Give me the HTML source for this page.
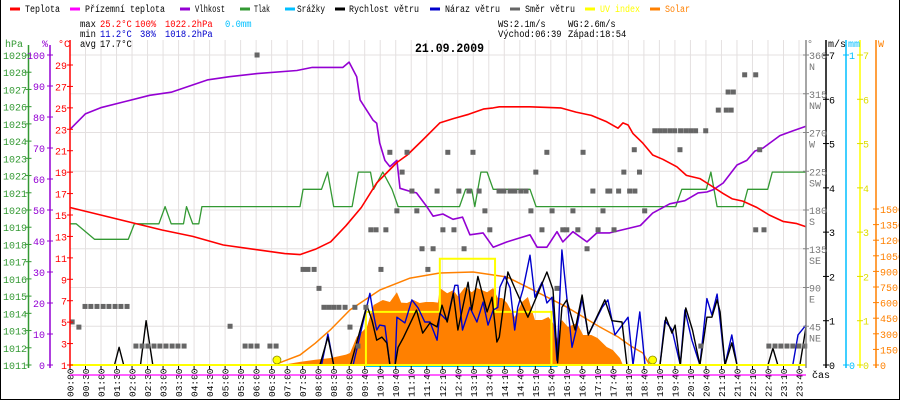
<!DOCTYPE html>
<html><head><meta charset="utf-8"><style>
html,body{margin:0;padding:0;background:#fff;}
svg{display:block;font-family:"Liberation Mono",monospace;}
</style></head><body>
<svg id="chart" width="900" height="400" viewBox="0 0 900 400" xmlns="http://www.w3.org/2000/svg">
<rect x="0" y="0" width="900" height="400" fill="#fff"/>
<g id="grid"></g>
<g id="series"></g>
<g id="axes"></g>
<g id="legend"></g>
</svg>
<script>
// ---------- DATA ----------
const timeLabels = ["00:00","00:30","01:00","01:30","02:00","02:30","03:00","03:30","04:00","04:30","05:00","05:30","06:00","06:30","07:00","07:30","08:00","08:30","09:00","09:40","10:10","10:40","11:10","11:40","12:10","12:40","13:10","13:40","14:10","14:40","15:10","15:40","16:10","16:40","17:10","17:40","18:10","18:40","19:10","19:40","20:10","20:40","21:10","21:40","22:10","22:40","23:10","23:40"];
const tempT = [0,1,2,3,4,5,6,7,7.5,8,8.5,9,9.5,10,10.66,11,11.5,12.06,12.5,13,13.5,13.8,14,15,16,16.5,17,17.5,17.87,18.03,18.2,18.36,18.68,19,19.33,19.79,20.1,20.54,20.87,21.3,21.6,21.94,22.4,22.8,23.25,23.7,24];
const tempV = [15.7,15.0,14.3,13.6,13.0,12.2,11.8,11.4,11.3,11.8,12.5,14.0,15.7,18.0,19.9,20.6,22.0,23.6,24.0,24.4,24.9,25.0,25.1,25.1,25.0,24.6,24.3,23.7,23.1,23.6,23.4,22.6,21.7,20.6,20.2,19.5,18.7,18.4,17.8,17.0,16.5,16.3,15.7,15.0,14.4,14.2,13.9];
const humT = [0,0.5,1,1.8,2.6,3.3,4.5,5.2,6.1,7.4,7.9,8.9,9.1,9.35,9.46,9.88,10.0,10.1,10.27,10.43,10.66,10.76,11.09,11.3,11.64,11.84,12.16,12.49,12.8,13.04,13.47,13.8,14.25,14.67,15.0,15.23,15.55,15.88,16.07,16.4,16.86,17.18,17.6,18.6,19.0,19.56,20.05,20.48,20.77,20.97,21.3,21.75,22.07,22.33,22.6,23.15,23.57,24];
const humV = [76,81,83,85,87,88,92,93,94,95,96,96,97.7,93,85.5,79,78,71.6,66,64,66,57,56,55.5,51,48,48.7,47,47.7,42,42.6,38,39.7,41,42,38,38,43,39.7,43,39.7,42.6,42.6,45,49,52,53,55.5,55.8,56.5,58.7,64.5,66,69,70,74,75.5,77];
const presT = [0,0.2,0.8,1.9,2.1,2.9,3.1,3.3,3.7,3.8,4.0,4.2,4.3,7.5,7.6,8.2,8.4,8.6,9.2,9.4,9.8,9.9,10.2,10.5,10.7,12.7,12.9,13.1,13.2,13.4,13.6,13.8,15.0,15.2,19.75,19.95,20.75,20.9,21.1,21.95,22.1,22.75,22.9,24];
const presV = [1019.2,1019.2,1018.3,1018.3,1019.2,1019.2,1020.2,1019.2,1019.2,1020.2,1019.2,1019.2,1020.2,1020.2,1021.2,1021.2,1022.2,1020.2,1020.2,1022.2,1022.2,1021.2,1022.2,1021.2,1020.2,1020.2,1021.2,1021.2,1020.2,1022.2,1022.2,1021.2,1021.2,1020.2,1020.2,1021.2,1021.2,1022.2,1020.2,1020.2,1021.2,1021.2,1022.2,1022.2];
const wsT = [0,1.45,1.6,1.75,2.3,2.48,2.7,8.15,8.41,8.6,9.15,9.68,9.85,10.0,10.17,10.33,10.43,10.6,10.7,10.86,11.3,11.5,11.74,11.97,12.13,12.3,12.5,12.65,12.98,13.1,13.3,13.6,13.76,13.92,14.0,14.28,14.5,14.93,15.55,15.75,15.9,16.04,16.2,16.47,16.7,16.9,17.44,17.67,18.0,18.16,19.24,19.43,19.63,19.73,19.9,20.08,20.3,20.54,20.77,20.93,21.1,21.2,21.36,21.58,21.75,22.76,22.92,23.08,23.8,24];
const wsV = [0,0,0.4,0,0,1.0,0,0,0.63,0,0,1.35,1.0,0.56,0.63,0.5,0,0,0.4,0.6,1.24,0.72,0.95,0.86,1.35,0.97,1.62,0.79,1.87,1.24,2.0,1.2,1.53,0.52,0.63,2.1,1.74,1.08,2.1,1.7,0.05,1.3,1.47,0.79,1.58,0.68,1.47,1.0,0.97,0,0,1.08,0.72,0.9,0,1.29,0.79,0,1.08,1.08,1.47,1.2,0,0.5,0,0,0.38,0,0,0.86];
const wgT = [0,8.2,8.41,8.6,9.23,9.78,9.88,10.0,10.1,10.27,10.43,10.6,10.66,10.92,11.15,11.35,11.57,11.74,11.97,12.06,12.3,12.55,12.65,12.8,13.04,13.27,13.47,13.63,13.8,13.95,14.02,14.18,14.35,14.5,14.6,14.77,15.0,15.16,15.39,15.55,15.72,15.88,16.04,16.2,16.37,16.53,16.7,16.9,17.35,17.54,17.77,18.2,18.36,18.58,18.75,19.24,19.4,19.63,19.9,20.05,20.28,20.54,20.77,20.93,21.1,21.2,21.36,21.58,21.75,23.57,23.74,24];
const wgV = [0,0,0.7,0,0,1.62,1.2,0.79,0.9,0.88,0,0,1.08,0.95,1.47,1.29,0.97,0.97,0.56,1.17,1.0,1.8,1.8,0.79,1.3,0.97,1.42,0.9,1.24,1.3,1.76,2.0,1.74,0.79,1.3,1.7,2.48,1.53,1.87,1.4,1.53,0.1,2.6,1.53,0.4,0.86,1.5,0.68,1.3,1.47,0.68,1.08,0,1.2,0,0,1.0,0.8,0,1.24,0.56,0,1.5,1.13,1.6,1.0,0,0.68,0,0,0.68,0.9];
const dirT = [0.07,0.29,0.49,0.68,0.88,1.08,1.27,1.47,1.66,1.86,2.15,2.35,2.54,2.74,2.93,3.13,3.33,3.52,3.72,5.22,5.71,5.9,6.1,6.52,6.72,6.1,7.6,7.76,7.96,8.12,8.28,8.44,8.6,8.77,8.97,9.13,9.29,9.39,9.65,9.81,9.98,10.3,10.14,10.43,10.99,10.66,10.83,11.15,11.31,11.48,11.67,11.84,11.97,12.16,12.32,12.52,12.68,12.85,13.01,13.14,13.34,13.53,13.69,13.99,14.15,14.35,14.51,14.7,14.87,15.03,15.19,15.39,15.55,15.72,15.88,16.07,16.2,16.4,16.56,16.73,16.86,17.05,17.22,17.38,17.54,17.74,17.6,17.89,18.25,18.06,18.4,18.42,18.57,18.74,19.07,19.23,19.39,19.56,19.72,19.91,20.08,20.24,20.4,20.73,21.4,21.56,19.89,21.14,21.46,21.63,22.0,22.36,22.49,22.36,22.63,20.57,22.79,22.99,23.18,23.38,23.57,23.77,23.96];
const dirV = [50,44,68,68,68,68,68,68,68,68,22,22,22,22,22,22,22,22,22,45,22,22,22,22,22,360,111,111,111,89,67,67,67,67,67,44,67,22,67,157,157,157,111,247,247,179,224,202,179,135,111,135,202,157,247,157,202,135,202,247,202,179,157,202,202,202,202,202,202,179,224,157,247,179,89,157,157,179,157,247,135,202,157,179,202,157,202,202,202,224,250,202,224,179,272,272,272,272,272,272,272,272,272,272,296,296,250,296,317,317,337,337,250,157,157,22,22,22,22,22,22,22,22];
const solT = [7.1,7.5,8.0,8.5,9.0,9.13,9.35,9.68,9.9,10.2,10.43,10.66,10.8,10.99,11.2,11.4,11.6,11.84,12.0,12.06,12.3,12.5,12.65,12.88,13.1,13.27,13.6,13.8,13.95,14.09,14.25,14.5,14.74,14.93,15.16,15.39,15.6,15.75,15.88,16.04,16.24,16.53,16.73,17.0,17.2,17.5,17.7,17.93,18.03];
const solV = [10,30,50,67,100,115,270,365,577,625,606,700,600,596,625,596,606,606,600,740,690,720,660,750,700,740,700,740,644,644,596,462,606,654,433,433,462,404,250,433,365,404,288,288,260,173,144,67,0];
const sunT = [6.65,7.0,7.5,8.0,8.48,9.13,10.1,11.09,12.06,13.14,14.25,15.1,16.2,17.28,17.87,18.3,18.68,18.9];
const sunV = [0,40,96,210,336,530,720,836,885,894,846,720,557,365,270,180,115,0];
const uvT = [0,9.65,12.06,13.86,15.7,24];
const uvV = [0,1.2,2.4,1.2,0,0];
const rainT = [9.65,15.9];
const rainV = [0,0];
const hpaTicks = [1029,1028,1027,1026,1025,1024,1023,1022,1021,1020,1019,1018,1017,1016,1015,1014,1013,1012,1011];
const pctTicks = [100,90,80,70,60,50,40,30,20,10,0];
const tempTicks = [29,27,25,23,21,19,17,15,13,11,9,7,5,3,1];
const dirTicks = [360,315,270,225,180,135,90,45];
const dirNames = ["N","NW","W","SW","S","SE","E","NE"];
const msTicks = [7,6,5,4,3,2,1,0];
const uvTicks = [7,6,5,4,3,2,1,0];
const wTicks = [1500,1350,1200,1050,900,750,600,450,300,150,0];

// ---------- SCALES ----------
const X0=70, X1=806, YB=365;
const X = t => X0 + t*(X1-X0)/24;
const yT = v => YB - (v-1)*300/28;
const yH = v => YB - v*3.1;
const yP = v => YB - (v-1011)*310/18;
const yW = v => YB - v*310/7;
const yD = v => YB - v*310/360;
const yS = v => YB - v*0.104;
const NS="http://www.w3.org/2000/svg";
function mk(parent,tag,attrs,text){const e=document.createElementNS(NS,tag);for(const k in attrs)e.setAttribute(k,attrs[k]);if(text!==undefined)e.textContent=text;parent.appendChild(e);return e;}
const G=document.getElementById('grid'),S=document.getElementById('series'),A=document.getElementById('axes'),L=document.getElementById('legend');
function pts(ts,vs,fy){return ts.map((t,i)=>X(t).toFixed(1)+','+fy(vs[i]).toFixed(1)).join(' ');}

// grid
const step=(799-70)/47;
timeLabels.forEach((lab,i)=>{
  const x=70+i*step;
  let l=mk(G,'line',{x1:x,y1:40,x2:x,y2:YB,stroke:'#e4e0e0','stroke-width':1});
  
  
  let tk=mk(A,'line',{x1:x,y1:YB,x2:x,y2:YB+4,stroke:'#000'});
  
  
  let tx=mk(A,'text',{x:0,y:0,transform:`translate(${x+3.5},397) rotate(-90)`,'font-size':'9.5',fill:'#000'},lab);
  
  
});
dirTicks.forEach(d=>{
  let l=mk(G,'line',{x1:X0,y1:yD(d),x2:X1,y2:yD(d),stroke:'#e4e0e0'});
  
  
});

// solar fill
{
  const p=X(solT[0])+','+YB+' '+pts(solT,solV,yS)+' '+X(solT[solT.length-1])+','+YB;
  let e=mk(S,'polygon',{points:p,fill:'#ff8000'});
  
  
}
function line(ts,vs,fy,col,w,name){
  let e=mk(S,'polyline',{points:pts(ts,vs,fy),fill:'none',stroke:col,'stroke-width':w,'stroke-linejoin':'round'});
  
  
}
line(sunT,sunV,yS,'#ff8000',1.5,'theoretical-solar-line');
// UV step
{
  let d='M'+X(uvT[0])+','+yW(uvV[0]);
  for(let i=1;i<uvT.length;i++){d+=' L'+X(uvT[i])+','+yW(uvV[i-1])+' L'+X(uvT[i])+','+yW(uvV[i]);}
  let e=mk(S,'path',{d:d,fill:'none',stroke:'#ffff00','stroke-width':2});
  
  
}
{
  let e=mk(S,'line',{x1:X(rainT[0]),y1:yW(rainV[0])+1,x2:X(rainT[1]),y2:yW(rainV[1])+1,stroke:'#00bfff','stroke-width':2});
  
  
}
line(wgT,wgV,yW,'#0000cc',1.4,'wind-gust-line');
line(wsT,wsV,yW,'#000000',1.4,'wind-speed-line');
line(presT,presV,yP,'#339933',1.3,'pressure-line');
line(humT,humV,yH,'#9400d3',1.6,'humidity-line');
line(tempT,tempV,yT,'#ff0000',1.6,'temperature-line');
dirT.forEach((t,i)=>{
  let e=mk(S,'rect',{x:X(t)-2.5,y:yD(dirV[i])-2.5,width:5,height:5,fill:'#666'});
  
  
});
// suns
[[6.65],[18.9]].forEach(a=>{
  let e=mk(S,'circle',{cx:X(a[0])+3,cy:360,r:4,fill:'#ffff00',stroke:'#888800','stroke-width':0.8});
  
  
});
// x axis
{
  let e=mk(A,'line',{x1:X0,y1:YB,x2:X1,y2:YB,stroke:'#ffff00','stroke-width':2});
  
  
  let m=mk(A,'line',{x1:X0,y1:375,x2:X1,y2:375,stroke:'#ff00ff','stroke-width':1.2});
  
  
}
// left axes
function vaxis(x,col,y1,name){let e=mk(A,'line',{x1:x,y1:y1,x2:x,y2:YB+3,stroke:col,'stroke-width':1.5});}
vaxis(28.5,'#339933',45,'pressure-axis');
vaxis(50,'#9400d3',45,'humidity-axis');
vaxis(70,'#ff0000',40,'temperature-axis');
function ticks(vals,fy,ax,col,tx,anchor,fmt,name){
  vals.forEach(v=>{
    const y=fy(v);
    let l=mk(A,'line',{x1:ax-3,y1:y,x2:ax+3,y2:y,stroke:col});
    
    
    let t=mk(A,'text',{x:tx,y:y+4,'font-size':'10',fill:col,'text-anchor':anchor},fmt?fmt(v):String(v));
    
    
  });
}
ticks(hpaTicks,yP,28.5,'#339933',3,'start',null,'pressure');
ticks(pctTicks,yH,50,'#9400d3',45,'end',null,'humidity');
ticks(tempTicks,yT,70,'#ff0000',67,'end',null,'temperature');
[["hPa",5,'#339933'],["%",42,'#9400d3'],["°C",58,'#ff0000']].forEach(a=>{
  let t=mk(A,'text',{x:a[1],y:47,'font-size':'10',fill:a[2]},a[0]);
  
  
});
// right axes
vaxis(806,'#888',40,'direction-axis');
vaxis(826,'#000',40,'wind-speed-axis');
vaxis(846,'#00bfff',40,'rain-axis');
vaxis(860,'#ffff00',40,'uv-axis');
vaxis(876,'#ff8000',40,'solar-axis');
dirTicks.forEach((d,i)=>{
  const y=yD(d);
  let l=mk(A,'line',{x1:803,y1:y,x2:809,y2:y,stroke:'#888'});
  
  
  let t=mk(A,'text',{x:809,y:y+4,'font-size':'10',fill:'#777'},String(d));
  
  
  let n=mk(A,'text',{x:809,y:y+15,'font-size':'10',fill:'#777'},dirNames[i]);
  
  
});
ticks(msTicks,yW,826,'#000',829,'start',null,'wind-speed');
ticks([1,0],v=>YB-v*310,846,'#00bfff',849,'start',null,'rain');
ticks(uvTicks,yW,860,'#dddd00',863,'start',null,'uv');
ticks(wTicks,yS,876,'#ff8000',880,'start',null,'solar');
[["°",807,'#777'],["m/s",828,'#000'],["mm",848,'#00bfff'],["W",878,'#ff8000']].forEach(a=>{
  let t=mk(A,'text',{x:a[1],y:47,'font-size':'10',fill:a[2]},a[0]);
  
  
});
{let t=mk(A,'text',{x:812,y:378,'font-size':'10',fill:'#000'},'čas');}

// legend
const legItems=[["Teplota",'#ff0000',10,25,35],["Přízemní teplota",'#ff00ff',70,85,80],["Vlhkost",'#9400d3',180,195,30],["Tlak",'#339933',240,254,16],["Srážky",'#00bfff',285,297,28],["Rychlost větru",'#000',335,349,70],["Náraz větru",'#0000cc',430,445,55],["Směr větru",'#666',510,525,50],["UV index",'#ffff00',585,600,40],["Solar",'#ff8000',650,665,25]];
legItems.forEach(a=>{
  let l=mk(L,'line',{x1:a[2],y1:9,x2:a[2]+10,y2:9,stroke:a[1],'stroke-width':3});
  
  
  let t=mk(L,'text',{x:a[3],y:12,'font-size':'10',fill:(a[1]==='#ffff00'||a[1]==='#ff8000')?a[1]:'#000',textLength:a[4],lengthAdjust:'spacingAndGlyphs'},a[0]);
  
  
});
const statTexts=[["max",80,27,'#000'],["25.2°C",100,27,'#ff0000'],["100%",135,27,'#ff0000'],["1022.2hPa",165,27,'#ff0000'],["0.0mm",225,27,'#00bfff'],
["min",80,37,'#000'],["11.2°C",100,37,'#0000cc'],["38%",140,37,'#0000cc'],["1018.2hPa",165,37,'#0000cc'],
["avg",80,47,'#000'],["17.7°C",100,47,'#000'],
["WS:2.1m/s",498,27,'#000'],["WG:2.6m/s",568,27,'#000'],["Východ:06:39",498,37,'#000'],["Západ:18:54",568,37,'#000']];
statTexts.forEach(a=>{
  let t=mk(L,'text',{x:a[1],y:a[2],'font-size':'10',fill:a[3],textLength:a[0].length*5.3,lengthAdjust:'spacingAndGlyphs'},a[0]);
  
  
});
{let t=mk(L,'text',{x:415,y:52,'font-size':'13','font-weight':'bold',fill:'#000',textLength:69,lengthAdjust:'spacingAndGlyphs'},'21.09.2009');

}
// border
{let b=mk(L,'path',{d:'M0.5,0 V399.5 H899.5 V0',fill:'none',stroke:'#000','stroke-width':1});

}
</script>
</body></html>
